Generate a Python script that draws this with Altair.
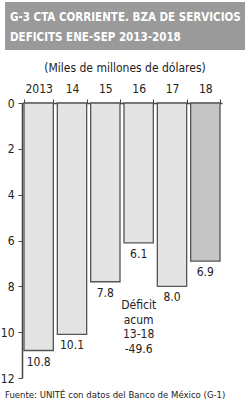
import altair as alt
import pandas as pd

years = ["2013", "14", "15", "16", "17", "18"]
values = [10.8, 10.1, 7.8, 6.1, 8.0, 6.9]
labels = ["10.8", "10.1", "7.8", "6.1", "8.0", "6.9"]
highlight = [False, False, False, False, False, True]

df = pd.DataFrame({"year": years, "value": values, "label": labels, "hl": highlight})

FONT = "DejaVu Sans Condensed"

xenc = alt.X("year:N", sort=years, scale=alt.Scale(paddingInner=0.12, paddingOuter=0.06),
             axis=alt.Axis(orient="top", title=None, labelAngle=0, labelFont=FONT, labelFontSize=12,
                           labelColor="#222", domainColor="#444", domainWidth=1.5, tickBand="extent",
                           tickColor="#444", tickSize=4, labelPadding=4))
yscale = alt.Scale(domain=[0, 12], reverse=True, nice=False)

base = alt.Chart(df)

bars = base.mark_bar(stroke="#555", strokeWidth=1.3).encode(
    x=xenc,
    y=alt.Y("value:Q", scale=yscale,
            axis=alt.Axis(title=None, values=[0, 2, 4, 6, 8, 10, 12], grid=False, labelFont=FONT,
                          labelFontSize=12, labelColor="#222", domainColor="#444", domainWidth=1.5,
                          tickColor="#444", tickSize=4, labelPadding=4)),
    y2=alt.datum(0),
    color=alt.Color("hl:N", scale=alt.Scale(domain=[False, True], range=["#e4e4e4", "#c6c6c6"]), legend=None),
)

vals = base.mark_text(font=FONT, fontSize=12, color="#222", baseline="top", dy=6).encode(
    x=alt.X("year:N", sort=years), y=alt.Y("value:Q", scale=yscale), text="label:N"
)

note = alt.Chart(pd.DataFrame({"year": ["16"], "v": [8.6], "t": ["Déficit\nacum\n13-18\n-49.6"]})).mark_text(
    font=FONT, fontSize=12, color="#222", baseline="top", lineBreak="\n", lineHeight=14.5
).encode(x=alt.X("year:N", sort=years), y=alt.Y("v:Q", scale=yscale), text="t:N")

title_box = alt.Chart(pd.DataFrame({"a": [0]})).mark_rect(color="#9a9a9a").encode(
    x=alt.value(-17), x2=alt.value(223), y=alt.value(-101), y2=alt.value(-53)
)
title_txt = alt.Chart(pd.DataFrame({"t": ["G-3  CTA CORRIENTE. BZA DE SERVICIOS\nDEFICITS ENE-SEP 2013-2018"]})).mark_text(
    font=FONT, fontSize=11.5, fontWeight="bold", color="white", align="left", baseline="middle",
    lineBreak="\n", lineHeight=20
).encode(x=alt.value(-12), y=alt.value(-85), text="t:N")

subtitle = alt.Chart(pd.DataFrame({"t": ["(Miles de millones de dólares)"]})).mark_text(
    font=FONT, fontSize=12, color="#222", align="center", baseline="middle"
).encode(x=alt.value(103), y=alt.value(-35), text="t:N")

source = alt.Chart(pd.DataFrame({"t": ["Fuente: UNITÉ con datos del Banco de México (G-1)"]})).mark_text(
    font=FONT, fontSize=9.5, color="#222", align="left", baseline="middle"
).encode(x=alt.value(-17), y=alt.value(292), text="t:N")

chart = alt.layer(bars, vals, note, title_box, title_txt, subtitle, source).properties(
    width=200, height=275, autosize=alt.AutoSizeParams(type="none"),
    padding={"left": 22, "top": 103, "right": 28, "bottom": 27}, background="white"
).configure_view(stroke=None)

chart.save("out.html", embed_options={"renderer": "svg", "actions": False})
